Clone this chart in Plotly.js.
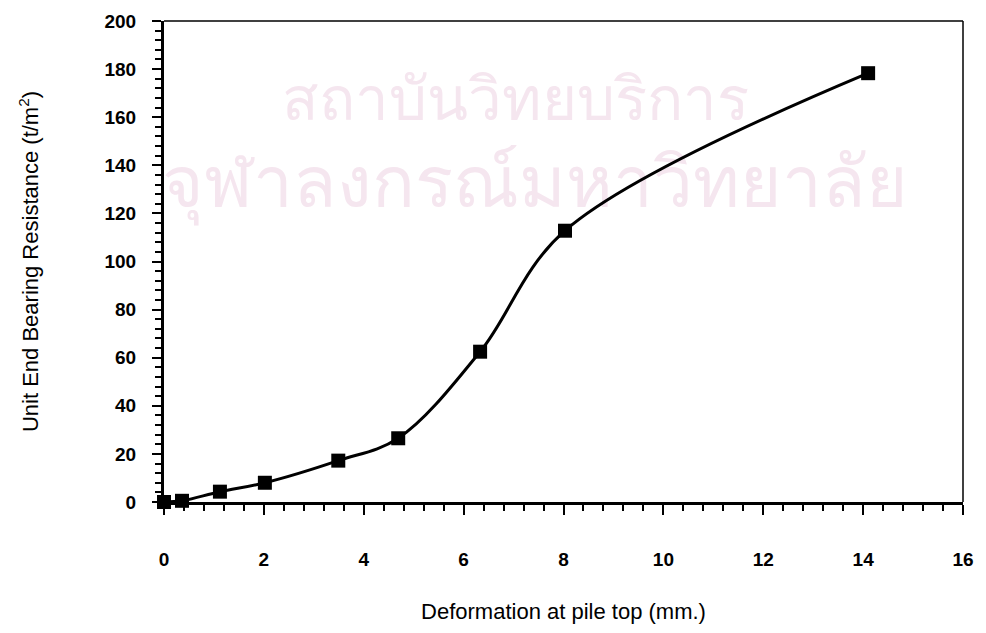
<!DOCTYPE html>
<html>
<head>
<meta charset="utf-8">
<script src="https://cdn.plot.ly/plotly-3.0.1.min.js"></script>
<style>html,body{margin:0;padding:0;background:#fff;}#chart{width:986px;height:633px;}</style>
</head>
<body>
<div id="chart"></div>
<script>
// Data
const deformation = [0, 0.36, 1.12, 2.02, 3.49, 4.69, 6.33, 8.03, 14.10];
const resistance  = [0, 0.5, 4.3, 8.0, 17.2, 26.5, 62.5, 112.8, 178.3];
const xTickVals = [0, 2, 4, 6, 8, 10, 12, 14, 16];
const yTickVals = [0, 20, 40, 60, 80, 100, 120, 140, 160, 180, 200];
const xTitle = 'Deformation at pile top (mm.)';
const yTitle = 'Unit End Bearing Resistance (t/m<sup>2</sup>)';
const watermarkLines = ['สถาบันวิทยบริการ', 'จุฬาลงกรณ์มหาวิทยาลัย'];

const font = 'Arial, "Liberation Sans", sans-serif';
const wmFont = '"Noto Sans", "DejaVu Sans", sans-serif';

// Background watermark drawn as a text layer beneath the curve
const watermark1 = {
  x: [7.03], y: [165], text: [watermarkLines[0]], type: 'scatter', mode: 'text',
  textposition: 'middle center', textfont: {size: 60, color: '#f5e6ef', family: wmFont},
  cliponaxis: false, hoverinfo: 'skip', showlegend: false
};
const watermark2 = {
  x: [7.43], y: [130], text: [watermarkLines[1]], type: 'scatter', mode: 'text',
  textposition: 'middle center', textfont: {size: 71, color: '#f5e6ef', family: wmFont},
  cliponaxis: false, hoverinfo: 'skip', showlegend: false
};

const trace = {
  x: deformation,
  y: resistance,
  type: 'scatter',
  mode: 'lines+markers',
  line: {color: '#000', width: 3, shape: 'spline', smoothing: 1},
  marker: {symbol: 'square', size: 14, color: '#000'},
  cliponaxis: false,
  showlegend: false
};

const layout = {
  width: 986, height: 633,
  margin: {l: 164, r: 23, t: 21, b: 131},
  paper_bgcolor: '#fff', plot_bgcolor: 'rgba(0,0,0,0)',
  font: {family: font, color: '#000', size: 16},
  xaxis: {
    range: [0, 16], tickvals: xTickVals, ticks: 'outside', ticklen: 10, tickwidth: 2, tickcolor: '#000',
    minor: {dtick: 0.4, ticks: 'outside', ticklen: 6, tickwidth: 2, tickcolor: '#000'},
    showline: true, linecolor: '#000', linewidth: 3, showgrid: false, zeroline: false,
    ticklabelstandoff: 28,
    tickfont: {size: 19, family: font, weight: 'bold'},
    title: {text: xTitle, font: {size: 22, family: font}, standoff: 35}
  },
  yaxis: {
    range: [0, 200], tickvals: yTickVals, ticks: 'outside', ticklen: 9, tickwidth: 2, tickcolor: '#000',
    minor: {dtick: 4, ticks: 'outside', ticklen: 6, tickwidth: 2, tickcolor: '#000'},
    showline: true, linecolor: '#000', linewidth: 3, showgrid: false, zeroline: false,
    ticklabelstandoff: 12,
    tickfont: {size: 19, family: font, weight: 'bold'},
    title: {text: yTitle, font: {size: 22, family: font}, standoff: 60}
  },
  shapes: [
    {type: 'line', xref: 'paper', yref: 'paper', x0: 0, x1: 1, y0: 1, y1: 1, line: {color: '#000', width: 1.5}},
    {type: 'line', xref: 'paper', yref: 'paper', x0: 1, x1: 1, y0: 0, y1: 1, line: {color: '#000', width: 1.5}}
  ]
};

Plotly.newPlot('chart', [watermark1, watermark2, trace], layout, {displayModeBar: false, staticPlot: true});
</script>
</body>
</html>
